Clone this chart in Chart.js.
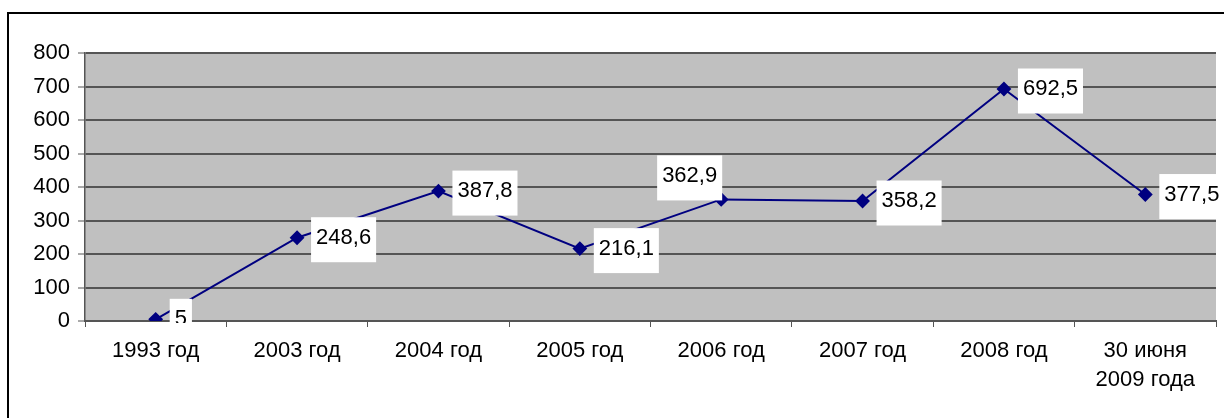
<!DOCTYPE html>
<html>
<head>
<meta charset="utf-8">
<script src="https://cdn.jsdelivr.net/npm/chart.js@4.4.0/dist/chart.umd.min.js"></script>
<style>
  html, body { margin: 0; padding: 0; background: #fff; }
  #wrap { position: relative; width: 1224px; height: 418px; overflow: hidden; }
  #frame { position: absolute; left: 7px; top: 12px; width: 1240px; height: 420px;
           border-top: 2px solid #000; border-left: 2px solid #000; box-sizing: border-box; }
  canvas { position: absolute; left: 0; top: 0; }
</style>
</head>
<body>
<div id="wrap">
  <div id="frame"></div>
  <canvas id="myChart" width="1224" height="418"></canvas>
</div>
<script>
const categories = ['1993 год', '2003 год', '2004 год', '2005 год', '2006 год', '2007 год', '2008 год', ['30 июня', '2009 года']];
const values = [5, 248.6, 387.8, 216.1, 362.9, 358.2, 692.5, 377.5];
const yTicks = [0, 100, 200, 300, 400, 500, 600, 700, 800];

const FONT = "'Liberation Sans', Arial, sans-serif";

// gray fill behind the plot area
const plotBg = {
	id: 'plotBg',
	beforeDraw(chart) {
		const a = chart.chartArea;
		const c = chart.ctx;
		c.save();
		c.fillStyle = '#c0c0c0';
		c.fillRect(a.left, a.top, a.right - a.left, a.bottom - a.top);
		c.restore();
	}
};

// white boxed value labels
const valueLabels = {
	id: 'valueLabels',
	afterDatasetsDraw(chart, args, opts) {
		const c = chart.ctx;
		const meta = chart.getDatasetMeta(0);
		c.save();
		c.beginPath();
		c.rect(0, 0, chart.width, chart.chartArea.bottom + 2);
		c.clip();
		c.font = '22px ' + FONT;
		c.textBaseline = 'middle';
		c.textAlign = 'center';
		meta.data.forEach(function(pt, i){
			let txt = String(values[i]).replace('.', ',');
			let w = c.measureText(txt).width + 10;
			let h = 45;
			let x, y;
			if (opts.above.indexOf(i) >= 0) {
				x = pt.x + 1 - w;
				y = pt.y + 1 - h;
			} else {
				x = pt.x + 14;
				y = pt.y + 2 - h / 2;
			}
			c.fillStyle = '#fff';
			c.fillRect(x, y, w, h);
			c.fillStyle = '#000';
			c.fillText(txt, x + w / 2, y + h / 2 - 2);
		});
		c.restore();
	}
};

new Chart(document.getElementById('myChart'), {
	type: 'line',
	data: {
		labels: categories,
		datasets: [{
			data: values,
			borderColor: '#000080',
			backgroundColor: '#000080',
			borderWidth: 2,
			pointStyle: 'rectRot',
			pointRadius: 6,
			pointHoverRadius: 6,
			fill: false,
			tension: 0
		}]
	},
	options: {
		responsive: false,
		animation: false,
		events: [],
		layout: { padding: { left: 0, top: 53, right: 8, bottom: 0 } },
		plugins: {
			legend: { display: false },
			tooltip: { enabled: false },
			valueLabels: { above: [4] }
		},
		scales: {
			x: {
				offset: true,
				grid: {
					offset: true,
					drawOnChartArea: false,
					tickLength: 6,
					tickWidth: 1,
					color: '#555'
				},
				border: { color: '#555', width: 2 },
				ticks: {
					color: '#000',
					padding: 9,
					maxRotation: 0,
					autoSkip: false,
					font: { family: FONT, size: 22, lineHeight: 1.33 }
				},
				afterFit(scale) { scale.height = 418 - 321; }
			},
			y: {
				min: 0,
				max: 800,
				afterBuildTicks(scale) { scale.ticks = yTicks.map(v => ({ value: v })); },
				grid: {
					color: '#555',
					lineWidth: 2,
					tickLength: 7,
					tickColor: '#555',
					tickWidth: 1
				},
				border: { color: '#555', width: 1.5 },
				ticks: {
					color: '#000',
					padding: 8,
					font: { family: FONT, size: 22 }
				},
				afterFit(scale) { scale.width = 85; }
			}
		}
	},
	plugins: [plotBg, valueLabels]
});
</script>
</body>
</html>
